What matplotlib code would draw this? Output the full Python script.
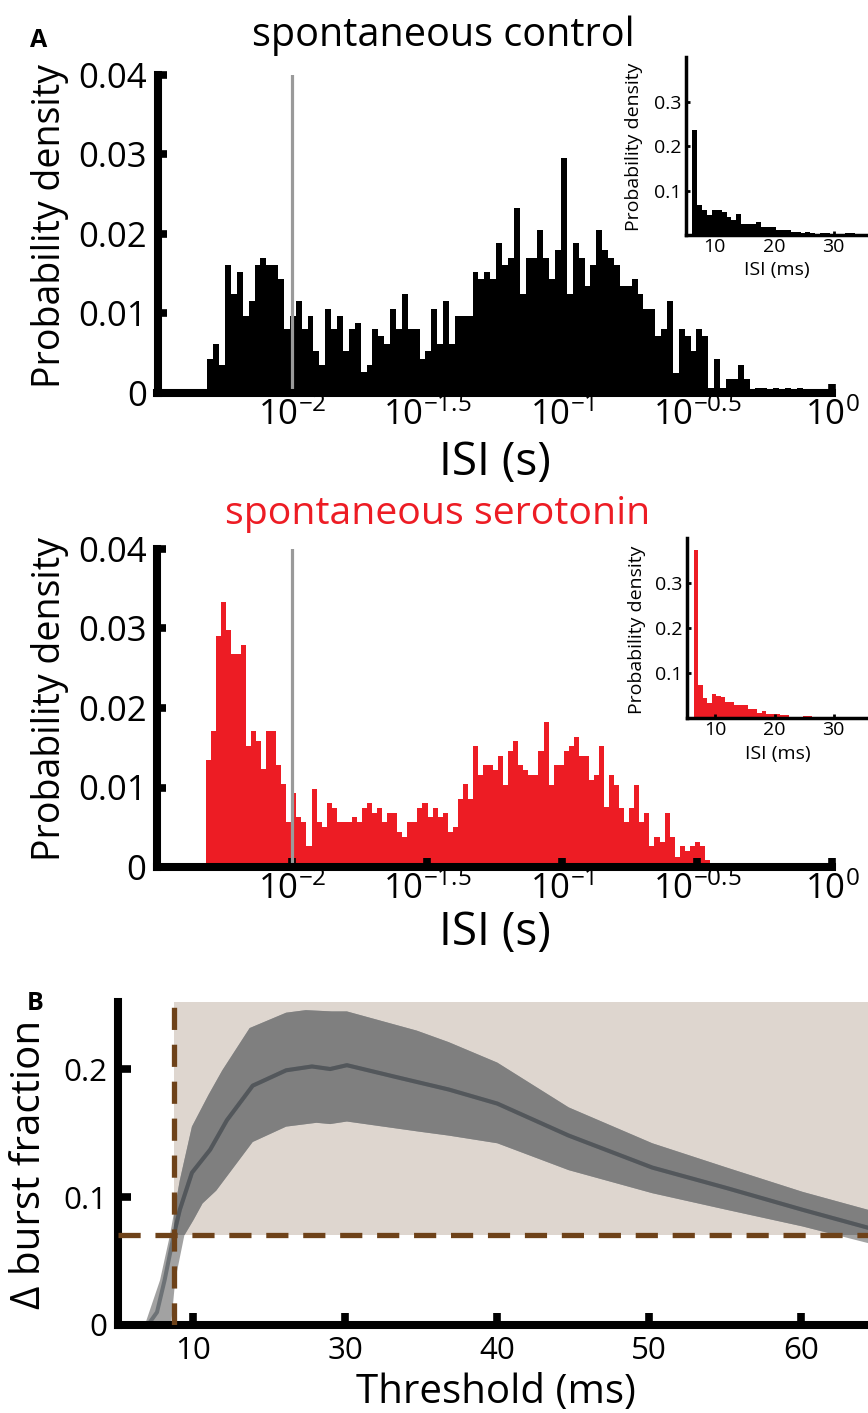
import numpy as np
import matplotlib
matplotlib.use("Agg")
import matplotlib.pyplot as plt
from matplotlib.patches import Rectangle

plt.rcParams['font.family'] = ['Open Sans', 'DejaVu Sans']
plt.rcParams['mathtext.fontset'] = 'custom'
plt.rcParams['mathtext.rm'] = 'Open Sans'
plt.rcParams['mathtext.it'] = 'Open Sans:italic'
plt.rcParams['mathtext.bf'] = 'Open Sans:bold'

# ---------------- data ----------------
# panel A, ISI histograms on log10 bins (probability density)
ctrl_density = [
    0.0043, 0.0061, 0.0035, 0.0161, 0.0124, 0.0152, 0.0097, 0.0116, 0.0161, 0.0170,
    0.0161, 0.0161, 0.0143, 0.0080, 0.0097, 0.0116, 0.0080, 0.0097, 0.0053, 0.0035,
    0.0106, 0.0080, 0.0097, 0.0053, 0.0080, 0.0088, 0.0026, 0.0035, 0.0080, 0.0071,
    0.0061, 0.0106, 0.0080, 0.0124, 0.0080, 0.0080, 0.0043, 0.0053, 0.0106, 0.0061,
    0.0116, 0.0061, 0.0097, 0.0097, 0.0097, 0.0152, 0.0143, 0.0152, 0.0143, 0.0188,
    0.0161, 0.0170, 0.0232, 0.0124, 0.0170, 0.0170, 0.0205, 0.0170, 0.0143, 0.0179,
    0.0295, 0.0124, 0.0188, 0.0170, 0.0134, 0.0161, 0.0205, 0.0179, 0.0170, 0.0161,
    0.0134, 0.0134, 0.0143, 0.0124, 0.0106, 0.0106, 0.0071, 0.0080, 0.0116, 0.0025,
    0.0080, 0.0071, 0.0053, 0.0080, 0.0071, 0.0006, 0.0043, 0.0006, 0.0017, 0.0017,
    0.0035, 0.0017, 0.0002, 0.0006, 0.0006, 0.0002, 0.0006, 0.0002, 0.0006, 0.0002,
    0.0006, 0.0002, 0.0002, 0.0002, 0.0002, 0.0002]
ctrl_log_range = (-2.315, 0.0)

sero_density = [
    0.0134, 0.0171, 0.0291, 0.0333, 0.0298, 0.0268, 0.0268, 0.0279, 0.0152, 0.0171,
    0.0158, 0.0123, 0.0171, 0.0171, 0.0128, 0.0104, 0.0056, 0.0093, 0.0063, 0.0056,
    0.0027, 0.0098, 0.0056, 0.0050, 0.0080, 0.0074, 0.0056, 0.0056, 0.0056, 0.0063,
    0.0056, 0.0074, 0.0080, 0.0068, 0.0074, 0.0056, 0.0068, 0.0068, 0.0044, 0.0038,
    0.0056, 0.0056, 0.0074, 0.0080, 0.0063, 0.0074, 0.0063, 0.0068, 0.0044, 0.0050,
    0.0086, 0.0104, 0.0086, 0.0152, 0.0116, 0.0128, 0.0128, 0.0122, 0.0140, 0.0103,
    0.0146, 0.0158, 0.0128, 0.0122, 0.0116, 0.0116, 0.0146, 0.0182, 0.0103, 0.0128,
    0.0128, 0.0146, 0.0152, 0.0163, 0.0140, 0.0140, 0.0110, 0.0116, 0.0152, 0.0076,
    0.0116, 0.0103, 0.0074, 0.0056, 0.0074, 0.0103, 0.0056, 0.0068, 0.0026, 0.0038,
    0.0032, 0.0068, 0.0038, 0.0013, 0.0026, 0.0020, 0.0026, 0.0032, 0.0026, 0.0009]
sero_log_range = (-2.32, -0.452)

burst_cut_s = 1e-2

# insets, ISI in ms (linear bins)
ctrl_inset = [0.236, 0.069, 0.057, 0.046, 0.056, 0.057, 0.052, 0.040, 0.034, 0.047,
              0.026, 0.025, 0.026, 0.029, 0.019, 0.019, 0.018, 0.012, 0.013, 0.012,
              0.008, 0.007, 0.005, 0.008, 0.006, 0.003, 0.005, 0.005, 0.003, 0.003,
              0.003, 0.005, 0.005, 0.003, 0.002, 0.002]
ctrl_inset_start, ctrl_inset_bin = 6.2, 0.83
sero_inset = [0.374, 0.074, 0.045, 0.034, 0.054, 0.048, 0.046, 0.035, 0.036, 0.029,
              0.030, 0.030, 0.019, 0.021, 0.012, 0.015, 0.009, 0.009, 0.009, 0.007,
              0.007, 0.003, 0.003, 0.003, 0.005, 0.005, 0.002, 0.001, 0.001, 0.001,
              0.001, 0.001, 0.001, 0.001, 0.001, 0.001, 0.001, 0.001]
sero_inset_start, sero_inset_bin = 6.3, 0.77

# panel B, delta burst fraction vs threshold (ms)
mean_x = [7.0, 7.6, 8.1, 8.7, 9.1, 9.9, 11.1, 12.2, 13.9, 16.1, 17.8, 19.0, 20.1,
          23.6, 26.8, 30.0, 34.7, 40.2, 45.1, 50.1, 54.4]
mean_y = [0.0, 0.010, 0.035, 0.070, 0.090, 0.119, 0.137, 0.160, 0.187, 0.199, 0.202,
          0.200, 0.203, 0.193, 0.184, 0.173, 0.148, 0.123, 0.107, 0.090, 0.076]
upper_x = [6.8, 7.8, 8.45, 9.1, 9.9, 11.0, 11.9, 13.7, 16.1, 17.4, 19.1, 20.1, 24.7,
           26.8, 30.0, 34.7, 40.2, 45.1, 50.1, 54.4]
upper_y = [0.0, 0.035, 0.070, 0.113, 0.155, 0.180, 0.199, 0.232, 0.244, 0.246, 0.245,
           0.245, 0.230, 0.221, 0.205, 0.170, 0.142, 0.123, 0.104, 0.090]
lower_x = [8.1, 8.55, 8.8, 9.4, 10.0, 10.6, 11.5, 13.9, 16.1, 18.1, 19.0, 20.1, 24.9,
           26.8, 30.0, 34.7, 40.2, 45.1, 50.1, 54.4]
lower_y = [0.0, 0.003, 0.035, 0.070, 0.082, 0.095, 0.105, 0.143, 0.155, 0.158, 0.157,
           0.159, 0.151, 0.148, 0.142, 0.121, 0.103, 0.090, 0.077, 0.064]
thr_x = 8.73
thr_y = 0.070

# ---------------- layout ----------------
W, H = 868, 1413
fig = plt.figure(figsize=(W / 100, H / 100), dpi=100)


def px_axes(x0, y0, x1, y1):
    return fig.add_axes([x0 / W, 1 - y1 / H, (x1 - x0) / W, (y1 - y0) / H])


RED = '#ed1c24'
BEIGE = '#ded6cf'
BROWN = '#6e4219'


def hist_panel(ax, vals, lrange, color):
    edges = 10 ** np.linspace(lrange[0], lrange[1], len(vals) + 1)
    ax.stairs(vals, edges, fill=True, color=color, lw=0, zorder=1)
    ax.axvline(burst_cut_s, color='#9a9a9a', lw=2.3, zorder=2)
    ax.set_xscale('log')
    ax.set_xlim(10 ** -2.5, 1)
    ax.set_ylim(0, 0.04)
    ax.minorticks_off()
    ax.set_xticks(10 ** np.array([-2, -1.5, -1, -0.5, 0]))
    ax.set_xticklabels([r'$10^{-2}$', r'$10^{-1.5}$', r'$10^{-1}$',
                        r'$10^{-0.5}$', r'$10^{0}$'])
    ax.set_yticks([0, 0.01, 0.02, 0.03, 0.04])
    ax.set_yticklabels(['0', '0.01', '0.02', '0.03', '0.04'])
    for s in ['top', 'right']:
        ax.spines[s].set_visible(False)
    for s in ['left', 'bottom']:
        ax.spines[s].set_linewidth(5.8)
    ax.tick_params(direction='in', length=6.5, width=5.5, labelsize=25)
    ax.tick_params(axis='x', pad=3.5)
    ax.tick_params(axis='y', pad=7.5)
    ax.set_ylabel('Probability density', fontsize=27)
    ax.yaxis.label.set_va('center')
    ax.set_xlabel('ISI (s)', fontsize=33)
    ax.xaxis.label.set_va('baseline')


def inset_panel(ax, vals, start, width, color):
    edges = start + width * np.arange(len(vals) + 1)
    ax.stairs(vals, edges, fill=True, color=color, lw=0)
    ax.set_xlim(5.2, 35.8)
    ax.set_ylim(0, 0.4)
    ax.set_xticks([10, 20, 30])
    ax.set_yticks([0.1, 0.2, 0.3])
    ax.set_yticklabels(['0.1', '0.2', '0.3'])
    for s in ['top', 'right']:
        ax.spines[s].set_visible(False)
    for s in ['left', 'bottom']:
        ax.spines[s].set_linewidth(2.5)
    ax.tick_params(direction='in', length=3, width=2, labelsize=14)
    ax.tick_params(axis='x', pad=2)
    ax.tick_params(axis='y', pad=3.5)
    ax.set_ylabel('Probability density', fontsize=14)
    ax.yaxis.label.set_va('center')
    ax.set_xlabel('ISI (ms)', fontsize=14)
    ax.xaxis.label.set_va('baseline')


# top histogram
ax1 = px_axes(157.5, 74.5, 832, 393)
hist_panel(ax1, ctrl_density, ctrl_log_range, 'black')
ax1.yaxis.set_label_coords(-0.159, 0.523)
ax1.xaxis.set_label_coords(0.5, -0.2575)

ax1i = px_axes(686, 57, 868, 235.3)
inset_panel(ax1i, ctrl_inset, ctrl_inset_start, ctrl_inset_bin, 'black')
ax1i.yaxis.set_label_coords(-0.286, 0.498)
ax1i.xaxis.set_label_coords(0.5, -0.223)

# bottom histogram
ax2 = px_axes(157, 549, 832, 867)
hist_panel(ax2, sero_density, sero_log_range, RED)
ax2.yaxis.set_label_coords(-0.159, 0.528)
ax2.xaxis.set_label_coords(0.5, -0.245)

ax2i = px_axes(687, 538, 868, 718)
inset_panel(ax2i, sero_inset, sero_inset_start, sero_inset_bin, RED)
ax2i.yaxis.set_label_coords(-0.278, 0.489)
ax2i.xaxis.set_label_coords(0.5, -0.228)

# panel B
ax3 = px_axes(117.5, 1001.7, 868, 1325)
ax3.set_xlim(5, 54.4)
ax3.set_ylim(0, 0.2526)
ax3.add_patch(Rectangle((thr_x, thr_y), 60, 1, color=BEIGE, lw=0, zorder=0.5))
band_x = np.r_[upper_x, lower_x[::-1]]
band_y = np.r_[upper_y, lower_y[::-1]]
ax3.fill(band_x, band_y, color='#a2a2a2', lw=0, zorder=1)
ax3.plot(mean_x, mean_y, color='#6d7276', lw=2.9, zorder=1.5)
clip = Rectangle((thr_x, thr_y), 60, 1, transform=ax3.transData)
dark_band = ax3.fill(band_x, band_y, color='#7f7f7f', lw=0, zorder=1.2)[0]
dark_band.set_clip_path(clip)
dark_line = ax3.plot(mean_x, mean_y, color='#53575b', lw=2.9, zorder=1.6)[0]
dark_line.set_clip_path(clip)
ax3.axvline(thr_x, color=BROWN, lw=3.8, dashes=(4.2, 2.8), zorder=3)
ax3.axhline(thr_y, color=BROWN, lw=3.8, dashes=(4.2, 2.8), zorder=3)
ax3.set_xticks([10, 20, 30, 40, 50])
ax3.set_xticklabels(['10', '30', '40', '50', '60'])
ax3.set_yticks([0, 0.1, 0.2])
ax3.set_yticklabels(['0', '0.1', '0.2'])
for s in ['top', 'right']:
    ax3.spines[s].set_visible(False)
for s in ['left', 'bottom']:
    ax3.spines[s].set_linewidth(5.8)
ax3.tick_params(direction='in', length=9, width=5.5, labelsize=22.5)
ax3.tick_params(axis='x', pad=8)
ax3.tick_params(axis='y', pad=7)
ax3.set_xlabel('Threshold (ms)', fontsize=29)
ax3.xaxis.label.set_va('baseline')
ax3.xaxis.set_label_coords(0.504, -0.241)
ax3.set_ylabel('\u0394 burst fraction', fontsize=29)
ax3.yaxis.label.set_va('center')
ax3.yaxis.set_label_coords(-0.117, 0.498)

# titles and panel letters
fig.text(443 / W, 1 - 46 / H, 'spontaneous control', ha='center', va='baseline',
         fontsize=28.5)
fig.text(438 / W, 1 - 524 / H, 'spontaneous serotonin', ha='center', va='baseline',
         fontsize=28.3, color=RED)
fig.text(30 / W, 1 - 47 / H, 'A', ha='left', va='baseline', fontsize=18,
         fontweight='bold')
fig.text(27 / W, 1 - 1010 / H, 'B', ha='left', va='baseline', fontsize=18,
         fontweight='bold')

fig.savefig('out.png', dpi=100)
